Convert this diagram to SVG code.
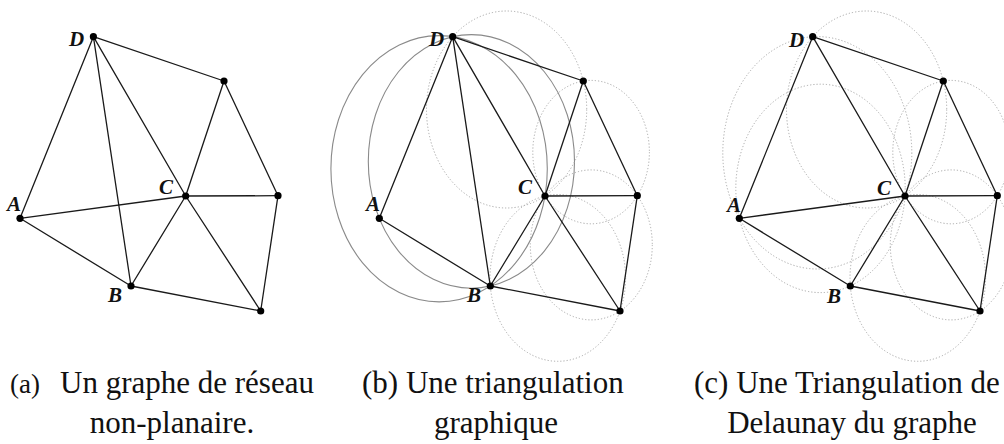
<svg xmlns="http://www.w3.org/2000/svg" width="1004" height="444" viewBox="0 0 1004 444">
<style>
.bg{fill:#ffffff}
.edge{stroke:#1a1a1a;stroke-width:1.3;fill:none;stroke-linecap:round}
.dot{fill:#000000}
.lbl{font-family:"Liberation Serif","Times New Roman",serif;font-style:italic;font-weight:bold;font-size:21px;fill:#111111}
.solid{fill:none;stroke:#8a8a8a;stroke-width:1.1}
.dotted{fill:none;stroke:#a8a8a8;stroke-width:1;stroke-dasharray:1.2 2}
.cap{font-family:"Liberation Serif","Times New Roman",serif;font-size:31px;fill:#111111}
</style>
<rect class="bg" x="0" y="0" width="1004" height="444"/>

<!-- Panel (a) -->
<g id="connectors-a">
<line class="edge" x1="93.4" y1="36.7" x2="20" y2="218.3"/>
<line class="edge" x1="93.4" y1="36.7" x2="131" y2="286"/>
<line class="edge" x1="93.4" y1="36.7" x2="185.7" y2="196"/>
<line class="edge" x1="93.4" y1="36.7" x2="224" y2="81"/>
<line class="edge" x1="224" y1="81" x2="185.7" y2="196"/>
<line class="edge" x1="224" y1="81" x2="278" y2="195.7"/>
<line class="edge" x1="185.7" y1="196" x2="278" y2="195.7"/>
<line class="edge" x1="20" y1="218.3" x2="185.7" y2="196"/>
<line class="edge" x1="20" y1="218.3" x2="131" y2="286"/>
<line class="edge" x1="131" y1="286" x2="185.7" y2="196"/>
<line class="edge" x1="185.7" y1="196" x2="260.7" y2="311"/>
<line class="edge" x1="278" y1="195.7" x2="260.7" y2="311"/>
<line class="edge" x1="131" y1="286" x2="260.7" y2="311"/>
</g>
<g id="a-D"><circle class="dot" cx="93.4" cy="36.7" r="3.6"/><text class="lbl" x="69" y="46">D</text></g>
<g id="a-A"><circle class="dot" cx="20" cy="218.3" r="3.6"/><text class="lbl" x="7" y="211">A</text></g>
<g id="a-B"><circle class="dot" cx="131" cy="286" r="3.6"/><text class="lbl" x="108" y="302">B</text></g>
<g id="a-C"><circle class="dot" cx="185.7" cy="196" r="3.6"/><text class="lbl" x="159" y="194">C</text></g>
<g id="a-N1"><circle class="dot" cx="224" cy="81" r="3.6"/></g>
<g id="a-N2"><circle class="dot" cx="278" cy="195.7" r="3.6"/></g>
<g id="a-N3"><circle class="dot" cx="260.7" cy="311" r="3.6"/></g>

<!-- Panel (b) -->
<g id="circles-b">
<ellipse class="solid" cx="471.4" cy="161.4" rx="103.1" ry="126.8"/>
<ellipse class="solid" cx="439.1" cy="168.75" rx="108.2" ry="133.1"/>
<ellipse class="dotted" cx="506.6" cy="109.5" rx="80.1" ry="98.5"/>
<ellipse class="dotted" cx="591.1" cy="152.1" rx="58.3" ry="71.7"/>
<ellipse class="dotted" cx="591.3" cy="244.9" rx="61" ry="75"/>
<ellipse class="dotted" cx="557.8" cy="277.9" rx="67.8" ry="83.4"/>
</g>
<g id="connectors-b">
<line class="edge" x1="452.7" y1="36.7" x2="379.3" y2="218.3"/>
<line class="edge" x1="452.7" y1="36.7" x2="490.3" y2="286"/>
<line class="edge" x1="452.7" y1="36.7" x2="545" y2="196"/>
<line class="edge" x1="452.7" y1="36.7" x2="583.3" y2="81"/>
<line class="edge" x1="583.3" y1="81" x2="545" y2="196"/>
<line class="edge" x1="583.3" y1="81" x2="637.3" y2="195.7"/>
<line class="edge" x1="545" y1="196" x2="637.3" y2="195.7"/>
<line class="edge" x1="379.3" y1="218.3" x2="490.3" y2="286"/>
<line class="edge" x1="490.3" y1="286" x2="545" y2="196"/>
<line class="edge" x1="545" y1="196" x2="620" y2="311"/>
<line class="edge" x1="637.3" y1="195.7" x2="620" y2="311"/>
<line class="edge" x1="490.3" y1="286" x2="620" y2="311"/>
</g>
<g id="b-D"><circle class="dot" cx="452.7" cy="36.7" r="3.6"/><text class="lbl" x="429" y="46">D</text></g>
<g id="b-A"><circle class="dot" cx="379.3" cy="218.3" r="3.6"/><text class="lbl" x="366" y="211">A</text></g>
<g id="b-B"><circle class="dot" cx="490.3" cy="286" r="3.6"/><text class="lbl" x="467" y="302">B</text></g>
<g id="b-C"><circle class="dot" cx="545" cy="196" r="3.6"/><text class="lbl" x="518" y="194">C</text></g>
<g id="b-N1"><circle class="dot" cx="583.3" cy="81" r="3.6"/></g>
<g id="b-N2"><circle class="dot" cx="637.3" cy="195.7" r="3.6"/></g>
<g id="b-N3"><circle class="dot" cx="620" cy="311" r="3.6"/></g>

<!-- Panel (c) -->
<g id="circles-c">
<ellipse class="dotted" cx="817.3" cy="152.8" rx="94.5" ry="116.2"/>
<ellipse class="dotted" cx="820.5" cy="188.4" rx="84.7" ry="104.2"/>
<ellipse class="dotted" cx="866.6" cy="109.5" rx="80.1" ry="98.5"/>
<ellipse class="dotted" cx="951.1" cy="152.1" rx="58.3" ry="71.7"/>
<ellipse class="dotted" cx="951.3" cy="244.9" rx="61" ry="75"/>
<ellipse class="dotted" cx="917.8" cy="277.9" rx="67.8" ry="83.4"/>
</g>
<g id="connectors-c">
<line class="edge" x1="812.7" y1="36.7" x2="739.3" y2="218.3"/>
<line class="edge" x1="812.7" y1="36.7" x2="905" y2="196"/>
<line class="edge" x1="812.7" y1="36.7" x2="943.3" y2="81"/>
<line class="edge" x1="943.3" y1="81" x2="905" y2="196"/>
<line class="edge" x1="943.3" y1="81" x2="997.3" y2="195.7"/>
<line class="edge" x1="905" y1="196" x2="997.3" y2="195.7"/>
<line class="edge" x1="739.3" y1="218.3" x2="905" y2="196"/>
<line class="edge" x1="739.3" y1="218.3" x2="850.3" y2="286"/>
<line class="edge" x1="850.3" y1="286" x2="905" y2="196"/>
<line class="edge" x1="905" y1="196" x2="980" y2="311"/>
<line class="edge" x1="997.3" y1="195.7" x2="980" y2="311"/>
<line class="edge" x1="850.3" y1="286" x2="980" y2="311"/>
</g>
<g id="c-D"><circle class="dot" cx="812.7" cy="36.7" r="3.6"/><text class="lbl" x="789" y="47">D</text></g>
<g id="c-A"><circle class="dot" cx="739.3" cy="218.3" r="3.6"/><text class="lbl" x="727" y="212">A</text></g>
<g id="c-B"><circle class="dot" cx="850.3" cy="286" r="3.6"/><text class="lbl" x="827" y="303">B</text></g>
<g id="c-C"><circle class="dot" cx="905" cy="196" r="3.6"/><text class="lbl" x="877" y="195">C</text></g>
<g id="c-N1"><circle class="dot" cx="943.3" cy="81" r="3.6"/></g>
<g id="c-N2"><circle class="dot" cx="997.3" cy="195.7" r="3.6"/></g>
<g id="c-N3"><circle class="dot" cx="980" cy="311" r="3.6"/></g>

<!-- Captions -->
<g id="captions">
<text class="cap" x="10" y="393" style="font-size:27px">(a)</text>
<text class="cap" x="60" y="393">Un graphe de réseau</text>
<text class="cap" x="172" y="433" text-anchor="middle">non-planaire.</text>
<text class="cap" x="362" y="393">(b) Une triangulation</text>
<text class="cap" x="496" y="433" text-anchor="middle">graphique</text>
<text class="cap" x="694" y="393">(c) Une Triangulation de</text>
<text class="cap" x="852" y="433" text-anchor="middle">Delaunay du graphe</text>
</g>
</svg>
